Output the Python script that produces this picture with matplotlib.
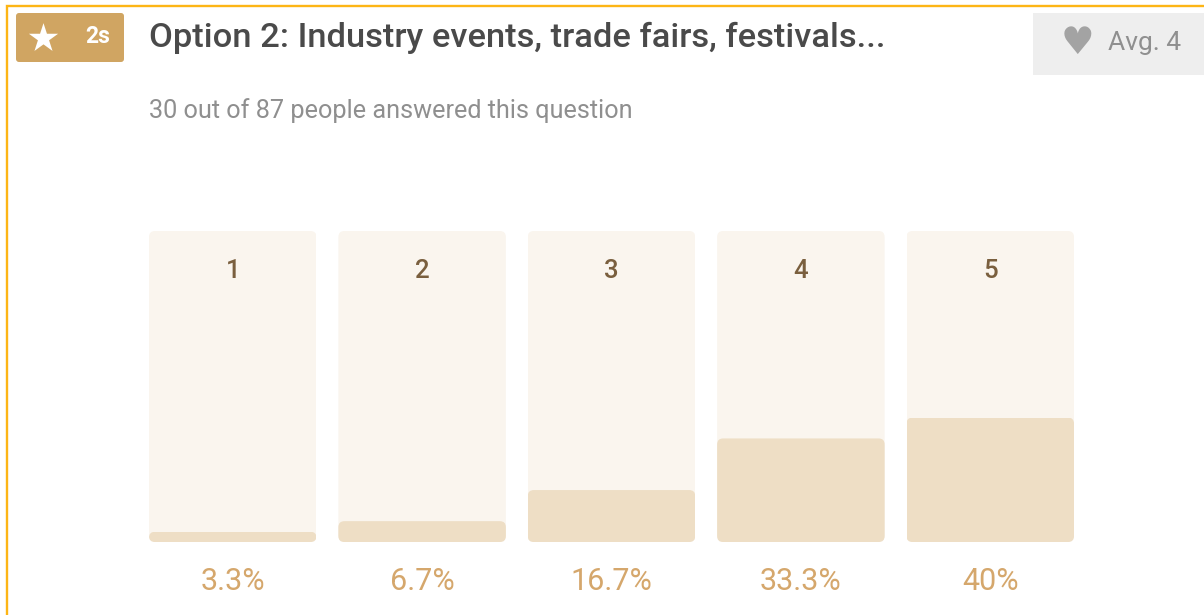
import matplotlib
matplotlib.use("Agg")
import matplotlib.pyplot as plt
from matplotlib.patches import FancyBboxPatch, Rectangle

categories = ["1", "2", "3", "4", "5"]
percent = [3.3, 6.7, 16.7, 33.3, 40]
percent_labels = ["3.3%", "6.7%", "16.7%", "33.3%", "40%"]
title = "Option 2: Industry events, trade fairs, festivals..."
subtitle = "30 out of 87 people answered this question"
avg_label = "Avg. 4"
time_label = "2s"

W, H = 1204, 615
FONT = "Roboto"
plt.rcParams["font.family"] = [FONT, "DejaVu Sans"]
fig = plt.figure(figsize=(W / 100, H / 100), dpi=100, facecolor="white")

# page furniture in pixel coordinates
bg = fig.add_axes([0, 0, 1, 1])
bg.set_xlim(0, W)
bg.set_ylim(H, 0)
bg.axis("off")
bg.plot([7, 7, W], [H, 6, 6], color="#FDB515", lw=1.7, solid_capstyle="butt", solid_joinstyle="miter")
bg.add_patch(FancyBboxPatch((16, 13), 108, 49, boxstyle="round,pad=0,rounding_size=3", fc="#D0A562", ec="none"))
bg.scatter([43], [38], marker="*", s=490, color="white", linewidths=0)
bg.text(98, 36.5, time_label, color="white", fontsize=16.5, fontweight="bold", ha="center", va="center")
bg.text(149, 38, title, color="#4A4A4A", fontsize=24.8, fontweight="medium", ha="left", va="center")
bg.text(149, 110.5, subtitle, color="#8F8F8F", fontsize=18.2, ha="left", va="center")
bg.add_patch(Rectangle((1033, 13), W - 1033, 62, fc="#EEEEEE", ec="none"))
bg.text(1077.5, 44.5, "\u2665", color="#A3A3A3", fontsize=27, family="DejaVu Sans", ha="center", va="center")
bg.text(1108, 43, avg_label, color="#8F8F8F", fontsize=19, ha="left", va="center")

# bar panel
left, right, top, bottom = 149, 1074, 231, 542
ax = fig.add_axes([left / W, 1 - bottom / H, (right - left) / W, (bottom - top) / H])
bar_w = 167.5 / 189.4
ax.set_xlim(-bar_w / 2, len(categories) - 1 + bar_w / 2)
ax.set_ylim(0, 100)
ax.axis("off")
x_pos = list(range(len(categories)))
px_x = 189.4
px_y = (bottom - top) / 100
radius = 6 / px_x
aspect = (6 / px_y) / radius

backs = ax.bar(x_pos, [100] * len(categories), width=bar_w, color="#FAF5EE", linewidth=0)
fills = ax.bar(x_pos, percent, width=bar_w, color="#EEDEC5", linewidth=0)
for bar in list(backs) + list(fills):
    clip = FancyBboxPatch(
        (bar.get_x(), bar.get_y()), bar.get_width(), bar.get_height(),
        boxstyle=f"round,pad=0,rounding_size={radius}", mutation_aspect=aspect,
        transform=ax.transData, fc="none", ec="none",
    )
    bar.set_clip_path(clip)

for xp, cat, lab in zip(x_pos, categories, percent_labels):
    ax.annotate(cat, (xp, 100), xytext=(0, -39.5 * 0.72), textcoords="offset points",
                ha="center", va="center", color="#7A5F3E", fontsize=18.5, fontweight="medium")
    ax.annotate(lab, (xp, 0), xytext=(0, -39.5 * 0.72), textcoords="offset points",
                ha="center", va="center", color="#D5A76C", fontsize=22, annotation_clip=False)

fig.savefig("out.png", dpi=100, facecolor="white")
